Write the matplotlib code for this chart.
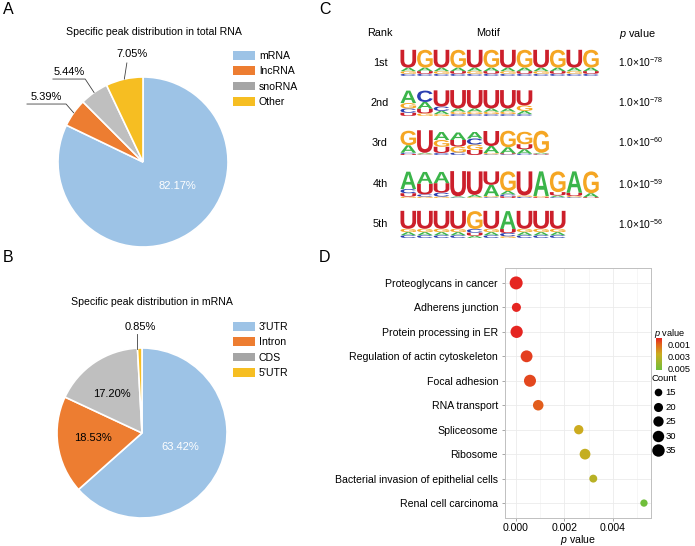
import numpy as np
import matplotlib
matplotlib.use('Agg')
import matplotlib.pyplot as plt
from matplotlib.patches import Patch, PathPatch
from matplotlib.lines import Line2D
from matplotlib.textpath import TextPath
from matplotlib.font_manager import FontProperties
from matplotlib.transforms import Affine2D
from matplotlib.colors import LinearSegmentedColormap, Normalize
import matplotlib.cm as cm

plt.rcParams['font.family'] = ['Liberation Sans', 'DejaVu Sans']
plt.rcParams['mathtext.fontset'] = 'custom'
plt.rcParams['mathtext.rm'] = 'Liberation Sans'
plt.rcParams['mathtext.it'] = 'Liberation Sans:italic'
plt.rcParams['mathtext.default'] = 'regular'

# ---------------- data ----------------
rna_labels = ['mRNA', 'lncRNA', 'snoRNA', 'Other']
rna_pct = [82.17, 5.39, 5.44, 7.05]

mrna_labels = ["3'UTR", 'Intron', 'CDS', "5'UTR"]
mrna_pct = [63.42, 18.53, 17.20, 0.85]

motif_ranks = ['1st', '2nd', '3rd', '4th', '5th']
motif_exps = [-78, -78, -60, -59, -56]

_Ucol = {'U': .66, 'A': .13, 'G': .10, 'C': .08}
_Gcol = {'G': .66, 'A': .13, 'U': .10, 'C': .08}
motif1 = [_Ucol, _Gcol] * 6
motif2 = [
    {'A': .46, 'G': .20, 'C': .16, 'U': .12},
    {'C': .42, 'A': .25, 'U': .17, 'G': .10},
    {'U': .60, 'C': .16, 'A': .12, 'G': .07},
    {'U': .68, 'A': .12, 'G': .09, 'C': .07},
    {'U': .68, 'A': .12, 'G': .09, 'C': .07},
    {'U': .68, 'A': .12, 'G': .09, 'C': .07},
    {'U': .68, 'A': .12, 'G': .09, 'C': .07},
    {'U': .56, 'G': .20, 'A': .12, 'C': .07},
]
motif3 = [
    {'G': .58, 'A': .30, 'C': .05, 'U': .04},
    {'U': .90, 'A': .04, 'G': .03, 'C': .02},
    {'A': .32, 'G': .27, 'U': .25, 'C': .08},
    {'A': .30, 'U': .26, 'G': .24, 'C': .10},
    {'A': .26, 'C': .24, 'G': .22, 'U': .20},
    {'U': .60, 'A': .28, 'G': .05, 'C': .03},
    {'G': .66, 'A': .24, 'U': .04, 'C': .03},
    {'G': .50, 'U': .20, 'A': .18, 'C': .05},
    {'G': .88, 'A': .04, 'U': .03, 'C': .02},
]
motif4 = [
    {'A': .62, 'C': .15, 'U': .12, 'G': .05},
    {'A': .42, 'U': .38, 'C': .08, 'G': .05},
    {'A': .40, 'U': .34, 'C': .14, 'G': .05},
    {'U': .90, 'A': .04, 'C': .02},
    {'U': .84, 'A': .08, 'G': .03},
    {'U': .48, 'A': .40, 'G': .04, 'C': .03},
    {'G': .70, 'A': .12, 'C': .07, 'U': .06},
    {'U': .86, 'G': .05, 'C': .04},
    {'A': .88, 'G': .04, 'U': .03},
    {'G': .74, 'U': .12, 'A': .06, 'C': .03},
    {'A': .76, 'U': .12, 'G': .04, 'C': .03},
    {'G': .78, 'A': .14, 'U': .03},
]
_U5 = {'U': .64, 'G': .12, 'A': .11, 'C': .10}
motif5 = [_U5, _U5, _U5, _U5,
          {'G': .64, 'C': .13, 'U': .11, 'A': .08},
          _U5,
          {'A': .64, 'U': .14, 'C': .12, 'G': .06},
          _U5, _U5, _U5]
motifs = [motif1, motif2, motif3, motif4, motif5]

kegg_terms = ['Proteoglycans in cancer', 'Adherens junction', 'Protein processing in ER',
              'Regulation of actin cytoskeleton', 'Focal adhesion', 'RNA transport',
              'Spliceosome', 'Ribosome', 'Bacterial invasion of epithelial cells',
              'Renal cell carcinoma']
kegg_p = [0.00001, 0.00002, 0.00003, 0.00044, 0.00058, 0.00092, 0.00259, 0.00285, 0.00319, 0.00528]
kegg_count = [38, 20, 34, 32, 33, 26, 21, 27, 16, 14]
count_breaks = [15, 20, 25, 30, 35]
p_ticks = [0.001, 0.003, 0.005]
x_ticks = [0.000, 0.002, 0.004]

# ---------------- layout helpers ----------------
W, H = 695, 546
fig = plt.figure(figsize=(W / 100, H / 100), dpi=100)


def box(l, t, w, h):
    return [l / W, 1 - (t + h) / H, w / W, h / H]


def fx(x):
    return x / W


def fy(y):
    return 1 - y / H


FS = 7.6
PFS = 8
CFS = 7.8
# panel letters
for lab, (x, y) in zip('ABCD', [(8, 10), (8, 257), (325, 10), (325, 257)]):
    fig.text(fx(x), fy(y), lab, fontsize=11.5, ha='center', va='center')

slice_colors = ['#9dc3e6', '#ed7d31', '#bfbfbf', '#f6be22']
legend_colors = ['#9dc3e6', '#ed7d31', '#a5a5a5', '#f6be22']


def draw_pie(rect, values, labels, title, title_xy, leg_top):
    ax = fig.add_axes(rect)
    wedges, _ = ax.pie(values, colors=slice_colors, startangle=90, counterclock=False,
                       wedgeprops=dict(edgecolor='white', linewidth=1.2))
    ax.set_xlim(-1, 1)
    ax.set_ylim(-1, 1)
    fig.text(fx(title_xy[0]), fy(title_xy[1]), title, fontsize=FS, ha='center', va='center')
    handles = [Patch(facecolor=c, edgecolor='none') for c in legend_colors]
    fig.legend(handles, labels, loc='upper left', bbox_to_anchor=(fx(233), fy(leg_top)),
               frameon=False, fontsize=FS, handlelength=2.1, handleheight=0.9,
               handletextpad=0.35, labelspacing=0.5, borderpad=0, borderaxespad=0)
    return ax, wedges


def mid_angle(w):
    return np.deg2rad((w.theta1 + w.theta2) / 2)


# ---------------- Panel A ----------------
axA, wA = draw_pie(box(58, 77, 170, 170), rna_pct, rna_labels,
                   'Specific peak distribution in total RNA', (154, 32), 51)
axA.text(0.40, -0.28, f'{rna_pct[0]:.2f}%', color='white', fontsize=PFS, ha='center', va='center')
# outer labels with leader lines: (index, text pos, elbow, tail)
outer_A = [(1, (-1.14, 0.76), (-0.905, 0.682), (-1.365, 0.682)),
           (2, (-0.87, 1.06), (-0.68, 0.976), (-1.06, 0.976)),
           (3, (-0.13, 1.27), (-0.19, 1.165), None)]
for i, txy, elbow, tail in outer_A:
    a = mid_angle(wA[i])
    end = (np.cos(a), np.sin(a))
    pts = ([tail] if tail else []) + [elbow, end]
    xs, ys = zip(*pts)
    axA.plot(xs, ys, color='#404040', lw=0.6, clip_on=False)
    axA.text(txy[0], txy[1], f'{rna_pct[i]:.2f}%', fontsize=PFS, ha='center', va='center')

# ---------------- Panel B ----------------
axB, wB = draw_pie(box(57, 348, 170, 170), mrna_pct, mrna_labels,
                   'Specific peak distribution in mRNA', (152, 302), 322)
axB.text(0.45, -0.16, f'{mrna_pct[0]:.2f}%', color='white', fontsize=PFS, ha='center', va='center')
axB.text(-0.58, -0.06, f'{mrna_pct[1]:.2f}%', color='black', fontsize=PFS, ha='center', va='center')
axB.text(-0.35, 0.46, f'{mrna_pct[2]:.2f}%', color='black', fontsize=PFS, ha='center', va='center')
a = mid_angle(wB[3])
axB.plot([np.cos(a) - 0.03, np.cos(a) - 0.03], [1.16, 0.99], color='#404040', lw=0.6, clip_on=False)
axB.text(-0.015, 1.245, f'{mrna_pct[3]:.2f}%', fontsize=PFS, ha='center', va='center')

# ---------------- Panel C ----------------
fig.text(fx(380), fy(33), 'Rank', fontsize=CFS, ha='center', va='center')
fig.text(fx(488), fy(33), 'Motif', fontsize=CFS, ha='center', va='center')
fig.text(fx(637), fy(34), r'$\mathit{p}$ value', fontsize=CFS, ha='center', va='center')

logo_colors = {'U': '#cc1f2b', 'G': '#f5a623', 'A': '#3bb54a', 'C': '#2a3fb0'}
fp_logo = FontProperties(family='Liberation Sans', weight='bold')
letter_paths = {L: TextPath((0, 0), L, size=1, prop=fp_logo) for L in 'ACGU'}


def draw_letter(ax, L, x, y, w, h):
    p = letter_paths[L]
    bb = p.get_extents()
    t = Affine2D().translate(-bb.x0, -bb.y0).scale(w / bb.width, h / bb.height).translate(x, y)
    ax.add_patch(PathPatch(t.transform_path(p), facecolor=logo_colors[L], edgecolor='none', lw=0))


logo_tops = [49, 89, 130, 170, 210]
logo_bots = [76, 116, 155, 198, 238]
col_w = 16.6
for r, motif in enumerate(motifs):
    n = len(motif)
    ax = fig.add_axes(box(400, logo_tops[r], n * col_w, logo_bots[r] - logo_tops[r]))
    ax.set_xlim(0, n)
    ax.set_ylim(0, 1)
    ax.axis('off')
    for i, col in enumerate(motif):
        y = 0
        for L, h in sorted(col.items(), key=lambda kv: kv[1]):
            draw_letter(ax, L, i + 0.03, y, 0.94, h)
            y += h
    yc = (logo_tops[r] + logo_bots[r]) / 2
    fig.text(fx(380), fy(yc), motif_ranks[r], fontsize=CFS, ha='center', va='center')
    fig.text(fx(618), fy(yc), r'1.0×10$^{%d}$' % motif_exps[r], fontsize=7.4, ha='left', va='center')

# ---------------- Panel D ----------------
cmap = LinearSegmentedColormap.from_list('pv', [(0, '#e52521'), (0.2, '#e2661b'),
                                               (0.5, '#cbad1f'), (1.0, '#70be3b')])
norm = Normalize(vmin=min(kegg_p), vmax=max(kegg_p))


def size_of(c):
    return 2.5 * np.asarray(c, dtype=float) - 7.36


axD = fig.add_axes(box(505, 268, 146, 250))
ypos = np.arange(len(kegg_terms))[::-1] + 1
axD.scatter(kegg_p, ypos, s=size_of(kegg_count), c=kegg_p, cmap=cmap, norm=norm,
            edgecolors='none', zorder=3)
axD.set_xlim(-0.00045, 0.00557)
axD.set_ylim(0.39, len(kegg_terms) + 0.61)
axD.set_yticks(ypos, kegg_terms)
axD.set_xticks(x_ticks, [f'{v:.3f}' for v in x_ticks])
axD.set_xticks([0.001, 0.003, 0.005], minor=True)
axD.grid(True, which='major', color='#ebebeb', lw=0.6, zorder=0)
axD.grid(True, which='minor', axis='x', color='#f3f3f3', lw=0.5, zorder=0)
axD.set_axisbelow(True)
axD.tick_params(axis='both', which='major', length=2.5, width=0.6, color='#999999',
                labelsize=7.6, pad=2.5)
axD.tick_params(axis='x', which='minor', length=0)
axD.tick_params(axis='x', pad=1.2)
for sp in axD.spines.values():
    sp.set_color('#c0c0c0')
    sp.set_linewidth(0.7)
axD.set_xlabel(r'$\mathit{p}$ value', fontsize=7.6, labelpad=0)

# colour legend
fig.text(fx(654), fy(333), r'$\mathit{p}$ value', fontsize=6.6, ha='left', va='center')
cax = fig.add_axes(box(656, 338, 6, 32))
cb = fig.colorbar(cm.ScalarMappable(norm=norm, cmap=cmap), cax=cax, ticks=p_ticks)
cb.outline.set_visible(False)
cax.invert_yaxis()
cax.tick_params(length=0, labelsize=6.6, pad=4)
cax.set_yticklabels([f'{v:.3f}' for v in p_ticks])

# size legend
handles = [Line2D([], [], ls='', marker='o', color='black', markeredgecolor='none',
                  markersize=np.sqrt(size_of(c))) for c in count_breaks]
fig.legend(handles, [str(c) for c in count_breaks], title='Count', loc='upper left',
           bbox_to_anchor=(fx(652), fy(374)), frameon=False, fontsize=6.8,
           title_fontsize=6.8, handlelength=1.35, handletextpad=0.05, labelspacing=0.58,
           borderpad=0, borderaxespad=0, alignment='left')

fig.savefig('out.png', dpi=100)
